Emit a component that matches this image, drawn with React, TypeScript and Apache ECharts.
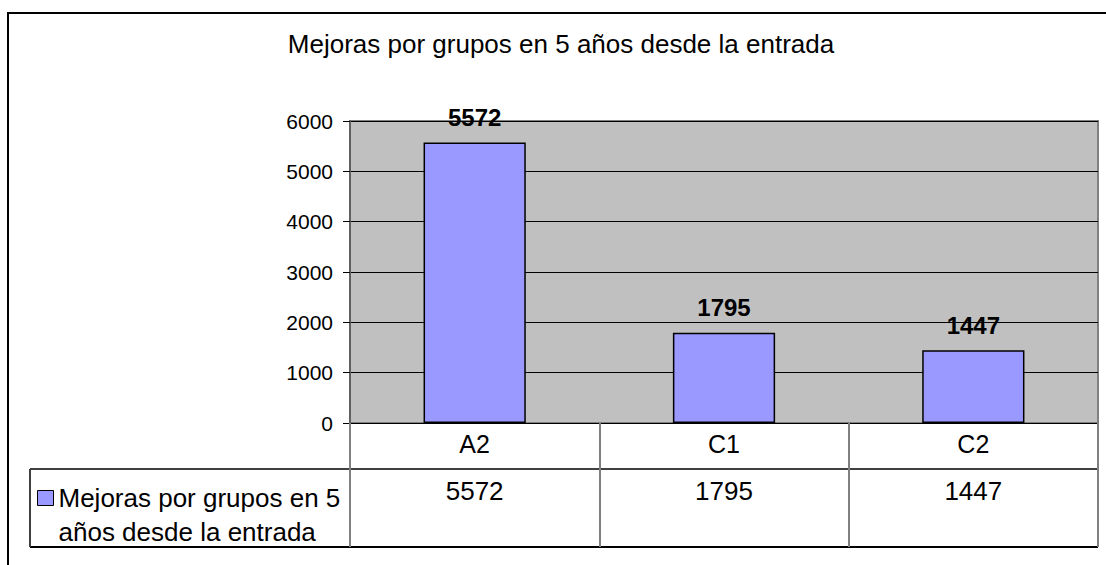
import React, { useEffect, useRef } from "react";
import * as echarts from "echarts";

const titleText = "Mejoras por grupos en 5 años desde la entrada";
const seriesName = "Mejoras por grupos en 5 años desde la entrada";
const categories = ["A2", "C1", "C2"];
const values = [5572, 1795, 1447];
const yMin = 0;
const yMax = 6000;
const yInterval = 1000;

const FONT = "'Liberation Sans', Arial, sans-serif";

export default function App() {
  const ref = useRef<HTMLDivElement>(null);
  useEffect(() => {
    if (!ref.current) return;
    const chart = echarts.init(ref.current, null, { renderer: "svg" });
    const option: any = {
      animation: false,
      backgroundColor: "#ffffff",
      textStyle: { fontFamily: FONT },
      title: {
        text: titleText,
        left: 561,
        top: 31,
        textAlign: "center",
        padding: 0,
        textStyle: { fontSize: 26, fontWeight: "normal", color: "#000", fontFamily: FONT },
      },
      legend: {
        show: true,
        left: 37,
        top: 447,
        padding: 0,
        itemWidth: 16,
        itemHeight: 15,
        icon: "rect",
        itemStyle: { borderColor: "#000", borderWidth: 1 },
        formatter: (name: string) => "\n" + name.replace(" en 5 ", " en 5\n"),
        textStyle: {
          fontSize: 26,
          color: "#000",
          fontFamily: FONT,
          lineHeight: 34,
        },
        data: [seriesName],
      },
      grid: {
        left: 350,
        top: 121,
        right: 8,
        bottom: 142,
        show: true,
        backgroundColor: "#C0C0C0",
        borderColor: "#808080",
        borderWidth: 2,
        containLabel: false,
      },
      xAxis: [
        {
          type: "category",
          data: categories,
          position: "bottom",
          axisLine: { show: true, lineStyle: { color: "#000", width: 1 } },
          axisTick: {
            show: true,
            alignWithLabel: false,
            inside: false,
            length: 124,
            lineStyle: { color: "#808080", width: 2 },
          },
          axisLabel: { fontSize: 25, color: "#000", margin: 8, fontFamily: FONT },
          splitLine: { show: false },
        },
        {
          type: "category",
          data: values.map(String),
          position: "bottom",
          axisLine: { show: false },
          axisTick: { show: false },
          axisLabel: { fontSize: 26, color: "#000", margin: 55, fontFamily: FONT },
          splitLine: { show: false },
        },
      ],
      yAxis: {
        type: "value",
        min: yMin,
        max: yMax,
        interval: yInterval,
        axisLine: { show: true, lineStyle: { color: "#606060", width: 2 } },
        axisTick: { show: true, length: 7, lineStyle: { color: "#000", width: 1 } },
        axisLabel: {
          fontSize: 21,
          color: "#000",
          margin: 17,
          fontFamily: FONT,
          formatter: (v: number) => String(v),
        },
        splitLine: { show: true, lineStyle: { color: "#000", width: 1 } },
      },
      series: [
        {
          name: seriesName,
          type: "bar",
          xAxisIndex: 0,
          data: values,
          barWidth: "41%",
          itemStyle: { color: "#9999FF", borderColor: "#000", borderWidth: 1.5 },
          label: {
            show: true,
            position: "top",
            distance: 13,
            fontSize: 24,
            fontWeight: "bold",
            color: "#000",
            fontFamily: FONT,
          },
        },
      ],
      graphic: [
        {
          type: "rect",
          shape: { x: 8, y: 13, width: 1120, height: 600 },
          style: { fill: "none", stroke: "#000", lineWidth: 2 },
          silent: true,
          z: 100,
        },
        {
          type: "line",
          shape: { x1: 30, y1: 469, x2: 1098, y2: 469 },
          style: { stroke: "#404040", lineWidth: 2 },
          silent: true,
        },
        {
          type: "line",
          shape: { x1: 30, y1: 547, x2: 1098, y2: 547 },
          style: { stroke: "#000", lineWidth: 2 },
          silent: true,
        },
        {
          type: "line",
          shape: { x1: 30, y1: 469, x2: 30, y2: 547 },
          style: { stroke: "#404040", lineWidth: 2 },
          silent: true,
        },
      ],
    };
    chart.setOption(option);
    return () => chart.dispose();
  }, []);
  return (
    <div
      ref={ref}
      style={{ position: "absolute", left: 0, top: 0, width: 1106, height: 565, background: "#fff" }}
    />
  );
}
